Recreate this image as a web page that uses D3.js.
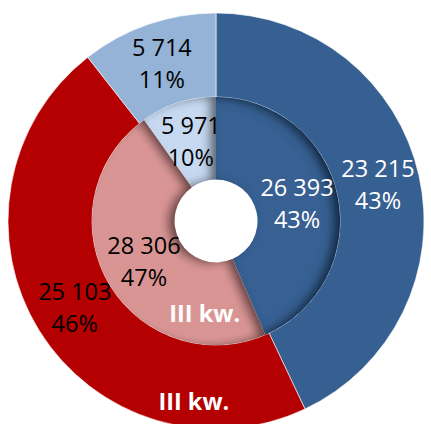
<!DOCTYPE html>
<html><head><meta charset="utf-8">
<script src="https://cdn.jsdelivr.net/npm/d3@7"></script>
<style>html,body{margin:0;padding:0;background:#fff;}svg{display:block;}</style>
</head><body>
<svg id="chart" width="431" height="424"></svg>
<script>
// Data
const categories = ["A", "B", "C"];
const outerValues = [23215, 25103, 5714];
const innerValues = [26393, 28306, 5971];
const outerPercents = [43, 46, 11];
const innerPercents = [43, 47, 10];
const outerColors = ["#376092", "#B40000", "#95B3D7"];
const innerColors = ["#376092", "#D99594", "#C6D9F1"];
const outerTextColors = ["#fff", "#000", "#000"];
const innerTextColors = ["#fff", "#000", "#000"];
const seriesLabel = "III kw.";

const cx = 216, cy = 221;
const rHole = 41.5, rMid = 124, rOuter = 208;

const svg = d3.select("#chart");
const defs = svg.append("defs");
const f = defs.append("filter").attr("id", "inner").attr("x", "-50%").attr("y", "-50%").attr("width", "200%").attr("height", "200%");
f.append("feComponentTransfer").attr("in", "SourceAlpha").attr("result", "inv")
  .append("feFuncA").attr("type", "table").attr("tableValues", "1 0");
f.append("feGaussianBlur").attr("in", "inv").attr("stdDeviation", 5).attr("result", "blur");
f.append("feOffset").attr("in", "blur").attr("dx", -7).attr("dy", 1).attr("result", "off");
f.append("feFlood").attr("flood-color", "#000").attr("flood-opacity", 0.8).attr("result", "col");
f.append("feComposite").attr("in", "col").attr("in2", "off").attr("operator", "in").attr("result", "sh");
f.append("feComposite").attr("in", "sh").attr("in2", "SourceAlpha").attr("operator", "in").attr("result", "sh2");
const m = f.append("feMerge");
m.append("feMergeNode").attr("in", "SourceGraphic");
m.append("feMergeNode").attr("in", "sh2");

const g = svg.append("g").attr("transform", `translate(${cx},${cy})`);
const pie = d3.pie().sort(null).value(d => d);
const fmt = v => d3.format(",")(v).replace(/,/g, " ");

const outerArc = d3.arc().innerRadius(rMid).outerRadius(rOuter);
const innerArc = d3.arc().innerRadius(rHole).outerRadius(rMid);

const outerPie = pie(outerValues);
const innerPie = pie(innerValues);

g.selectAll("path.outer").data(outerPie).join("path")
  .attr("class", "outer").attr("d", outerArc)
  .attr("fill", (d, i) => outerColors[i])
  .attr("stroke", "#fff").attr("stroke-width", 0.6);

g.selectAll("path.inner").data(innerPie).join("path")
  .attr("class", "inner").attr("d", innerArc)
  .attr("fill", (d, i) => innerColors[i])
  .attr("filter", "url(#inner)");

const font = "'Open Sans', sans-serif";
const fs = 23.5;
function labels(data, arc, pcts, colors) {
  data.forEach((d, i) => {
    const [x, y] = arc.centroid(d);
    const t = g.append("text").attr("text-anchor", "middle")
      .attr("font-family", font).attr("font-size", fs).attr("fill", colors[i]);
    t.append("tspan").attr("x", x).attr("y", y - 16).attr("dy", "0.35em").text(fmt(d.value));
    t.append("tspan").attr("x", x).attr("y", y + 16).attr("dy", "0.35em").text(pcts[i] + "%");
  });
}
labels(outerPie, outerArc, outerPercents, outerTextColors);
labels(innerPie, innerArc, innerPercents, innerTextColors);

// series annotations near the bottom of each ring's red segment
const annAngle = 187 * Math.PI / 180;
[93, 182].forEach(r => {
  g.append("text").attr("text-anchor", "middle")
    .attr("x", r * Math.sin(annAngle)).attr("y", -r * Math.cos(annAngle)).attr("dy", "0.35em")
    .attr("font-family", font).attr("font-size", fs).attr("font-weight", "bold")
    .attr("fill", "#fff").text(seriesLabel);
});
</script>
</body></html>
